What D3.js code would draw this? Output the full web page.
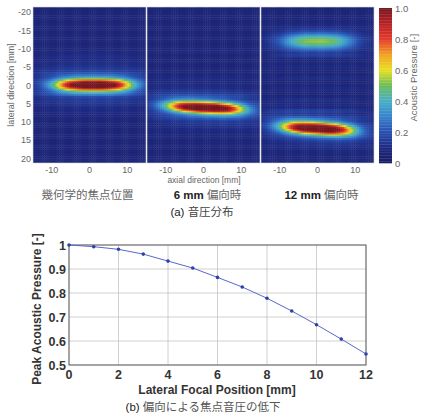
<!DOCTYPE html>
<html>
<head>
<meta charset="utf-8">
<script src="https://cdn.jsdelivr.net/npm/d3@7"></script>
<style>
  body { margin: 0; background: #fff; }
  svg { font-family: "Liberation Sans", Arial, sans-serif; }
  .jp { font-family: "Noto Sans CJK JP", sans-serif; }
</style>
</head>
<body>
<div id="chart"></div>
<script>
// ---- data ----
var panelCaptions = [["", "幾何学的焦点位置"], ["6 mm ", "偏向時"], ["12 mm ", "偏向時"]];
var axialTicks = [-10, 0, 10];
var lateralTicks = [-20, -15, -10, -5, 0, 5, 10, 15, 20];
var colorTicks = [0, 0.2, 0.4, 0.6, 0.8, 1.0];

// focal lobes: lateral pos, axial centre, peak, axial half size, lateral size, tilt
var lobes1 = [
  {lat: 0, ax: 1, peak: 0.98, a: 10, b: 1.7, tilt: 0},
  {lat: 0, ax: 1, peak: 0.13, a: 17, b: 5.5, tilt: 0}
];
var lobes2 = [
  {lat: 6.2, ax: 0.5, peak: 0.98, a: 10, b: 1.6, tilt: 0.05},
  {lat: 6.2, ax: 0.5, peak: 0.13, a: 17, b: 5, tilt: 0.05}
];
var lobes3 = [
  {lat: 11.9, ax: 0, peak: 0.98, a: 9.5, b: 1.7, tilt: 0.06},
  {lat: 11.9, ax: 0, peak: 0.13, a: 16, b: 4.5, tilt: 0.06},
  {lat: -11.9, ax: 0, peak: 0.36, a: 9, b: 2.1, tilt: 0},
  {lat: -11.9, ax: 0, peak: 0.1, a: 14, b: 3.5, tilt: 0}
];
// faint horizontal striations (lateral pos, amplitude)
var streaks1 = [[-3, 0.04], [2.5, 0.05], [-8, 0.03]];
var streaks2 = [[3, 0.05], [9, 0.04], [-2, 0.03], [-9, 0.03]];
var streaks3 = [[-8, 0.06], [-5, 0.04], [-2, 0.05], [1, 0.04], [4, 0.05], [7, 0.06], [9, 0.05]];
var panels = [
  {lobes: lobes1, streaks: streaks1},
  {lobes: lobes2, streaks: streaks2},
  {lobes: lobes3, streaks: streaks3}
];

var deflection = [0, 1, 2, 3, 4, 5, 6, 7, 8, 9, 10, 11, 12];
var peakPressure = [1.0, 0.993, 0.982, 0.962, 0.933, 0.904, 0.865, 0.825, 0.778, 0.725, 0.668, 0.608, 0.546];
var xTicks = [0, 2, 4, 6, 8, 10, 12];
var yTicks = [0.5, 0.6, 0.7, 0.8, 0.9, 1];

// washed-out jet, as in the scan
var colorStops = [
  [0.0, "#1a1c62"], [0.1, "#1e2a82"], [0.2, "#2850b0"], [0.3, "#3583cc"],
  [0.4, "#47aec8"], [0.5, "#6cbc5a"], [0.6, "#e6e022"], [0.7, "#f2a224"],
  [0.8, "#e43a2c"], [0.9, "#b82226"], [1.0, "#761820"]
];

var svg = d3.select("#chart").append("svg")
  .attr("width", 424).attr("height", 414);

var color = d3.scaleLinear()
  .domain(colorStops.map(function(d) { return d[0]; }))
  .range(colorStops.map(function(d) { return d[1]; }))
  .clamp(true);

// ---- (a) pressure maps ----
var pw = 113, ph = 156, mapTop = 7;
var x = d3.scaleLinear().domain([-15, 15]).range([0, pw]);
var y = d3.scaleLinear().domain([-21.3, 21.3]).range([0, ph]);
var step = 0.5;
var axGrid = d3.range(-15, 15, step);
var latGrid = d3.range(-21.5, 21.5, step);

function field(p, ax, lat) {
  var v = 0.07;
  p.lobes.forEach(function(l) {
    var dx = ax - l.ax, dy = lat - l.lat - l.tilt * dx;
    v += l.peak * Math.exp(-Math.pow(Math.abs(dx) / l.a, 3) - (dy / l.b) * (dy / l.b));
  });
  p.streaks.forEach(function(s) {
    var dy = (lat - s[0]) / 0.45;
    v += s[1] * Math.exp(-dy * dy) * Math.exp(-Math.pow(ax / 14, 4));
  });
  return v;
}

panels.forEach(function(p, i) {
  var g = svg.append("g").attr("transform", "translate(" + (33 + i * 114) + "," + mapTop + ")");
  var cells = [];
  latGrid.forEach(function(lat) {
    axGrid.forEach(function(ax) {
      cells.push({ax: ax, lat: lat, v: field(p, ax + step / 2, lat + step / 2)});
    });
  });
  g.selectAll("rect.cell").data(cells).enter().append("rect")
    .attr("class", "cell")
    .attr("x", function(d) { return x(d.ax); })
    .attr("y", function(d) { return Math.max(0, y(d.lat)); })
    .attr("width", x(step) - x(0) + 0.4)
    .attr("height", y(step) - y(0) + 0.4)
    .attr("fill", function(d) { return color(d.v); });
  // trim overflow of the last cells
  g.append("rect").attr("x", pw).attr("y", -1).attr("width", 1).attr("height", ph + 3).attr("fill", "#fff");
  g.append("rect").attr("x", -1).attr("y", ph).attr("width", pw + 2).attr("height", 3).attr("fill", "#fff");
  g.append("rect").attr("width", pw).attr("height", ph).attr("fill", "none")
    .attr("stroke", "#d8d8d8").attr("stroke-width", 0.6);

  g.selectAll("text.xt").data(axialTicks).enter().append("text")
    .attr("class", "xt")
    .attr("x", function(d) { return x(d); })
    .attr("y", ph + 10)
    .attr("text-anchor", "middle")
    .style("font-size", "9px").style("fill", "#666")
    .text(function(d) { return d; });

  var cap = g.append("text").attr("x", pw / 2 + (i == 0 ? -2 : 4)).attr("y", ph + 36)
    .attr("text-anchor", "middle").style("font-size", "11.5px");
  cap.append("tspan").style("font-weight", "bold").style("fill", "#222").text(panelCaptions[i][0]);
  cap.append("tspan").attr("class", "jp").style("fill", "#666").text(panelCaptions[i][1]);
});

var left = svg.append("g").attr("transform", "translate(33," + mapTop + ")");
left.selectAll("text.yt").data(lateralTicks).enter().append("text")
  .attr("class", "yt")
  .attr("x", -2)
  .attr("y", function(d) { return y(d) + 3.5; })
  .attr("text-anchor", "end")
  .style("font-size", "9px").style("fill", "#666")
  .text(function(d) { return d; });
left.append("text")
  .attr("transform", "translate(-19," + (ph / 2) + ")rotate(-90)")
  .attr("text-anchor", "middle")
  .style("font-size", "9px").style("fill", "#666")
  .text("lateral direction [mm]");

svg.append("text")
  .attr("x", 204).attr("y", 183)
  .attr("text-anchor", "middle")
  .style("font-size", "8.5px").style("fill", "#666")
  .text("axial direction [mm]");

var capA = svg.append("text").attr("x", 202).attr("y", 216)
  .attr("text-anchor", "middle").style("font-size", "11.5px");
capA.append("tspan").style("fill", "#222").text("(a) ");
capA.append("tspan").attr("class", "jp").style("fill", "#444").text("音圧分布");

// colour bar
var cb = svg.append("g").attr("transform", "translate(379,8)");
var cbY = d3.scaleLinear().domain([0, 1]).range([155, 0]);
var cbSteps = d3.range(0, 1, 0.01);
cb.selectAll("rect").data(cbSteps).enter().append("rect")
  .attr("x", 0).attr("width", 13)
  .attr("y", function(d) { return cbY(d + 0.01); })
  .attr("height", cbY(0) - cbY(0.01) + 0.3)
  .attr("fill", function(d) { return color(d + 0.005); });
cb.selectAll("text").data(colorTicks).enter().append("text")
  .attr("x", 16)
  .attr("y", function(d) { return cbY(d) + 3.5; })
  .style("font-size", "9.5px").style("fill", "#666")
  .text(function(d) { return d == 0 ? "0" : d.toFixed(1); });
cb.append("text")
  .attr("transform", "translate(38," + cbY(0.55) + ")rotate(-90)")
  .attr("text-anchor", "middle")
  .style("font-size", "9.5px").style("fill", "#666")
  .text("Acoustic Pressure [-]");

// ---- (b) peak pressure vs deflection ----
var bx = d3.scaleLinear().domain([0, 12]).range([69, 366]);
var by = d3.scaleLinear().domain([0.5, 1]).range([365, 245]);

svg.append("g").selectAll("line").data(xTicks).enter().append("line")
  .attr("x1", function(d) { return bx(d); }).attr("x2", function(d) { return bx(d); })
  .attr("y1", by(0.5)).attr("y2", by(1))
  .attr("stroke", "#c4c4c4").attr("stroke-width", 0.8);
svg.append("g").selectAll("line").data(yTicks).enter().append("line")
  .attr("x1", bx(0)).attr("x2", bx(12))
  .attr("y1", function(d) { return by(d); }).attr("y2", function(d) { return by(d); })
  .attr("stroke", "#c4c4c4").attr("stroke-width", 0.8);
svg.append("rect")
  .attr("x", bx(0)).attr("y", by(1))
  .attr("width", bx(12) - bx(0)).attr("height", by(0.5) - by(1))
  .attr("fill", "none").attr("stroke", "#555").attr("stroke-width", 0.9);

svg.append("g").selectAll("text").data(yTicks).enter().append("text")
  .attr("x", bx(0) - 3)
  .attr("y", function(d) { return by(d) + 4.5; })
  .attr("text-anchor", "end")
  .style("font-size", "12.5px").style("font-weight", "bold").style("fill", "#333")
  .text(function(d) { return d == 1 ? "1" : d.toFixed(1); });
svg.append("g").selectAll("text").data(xTicks).enter().append("text")
  .attr("x", function(d) { return bx(d); })
  .attr("y", by(0.5) + 14)
  .attr("text-anchor", "middle")
  .style("font-size", "12.5px").style("font-weight", "bold").style("fill", "#333")
  .text(function(d) { return d; });

svg.append("text")
  .attr("x", 217).attr("y", 394)
  .attr("text-anchor", "middle")
  .style("font-size", "12px").style("font-weight", "bold").style("fill", "#333")
  .text("Lateral Focal Position [mm]");
svg.append("text")
  .attr("transform", "translate(41," + ((by(0.5) + by(1)) / 2 + 4) + ")rotate(-90)")
  .attr("text-anchor", "middle")
  .style("font-size", "12px").style("font-weight", "bold").style("fill", "#333")
  .text("Peak Acoustic Pressure [-]");

var pts = deflection.map(function(d, i) { return [d, peakPressure[i]]; });
svg.append("path")
  .datum(pts)
  .attr("fill", "none").attr("stroke", "#5a68c8").attr("stroke-width", 1)
  .attr("d", d3.line().x(function(d) { return bx(d[0]); }).y(function(d) { return by(d[1]); }));
svg.append("g").selectAll("circle").data(pts).enter().append("circle")
  .attr("cx", function(d) { return bx(d[0]); })
  .attr("cy", function(d) { return by(d[1]); })
  .attr("r", 1.8).attr("fill", "#3040a8");

var capB = svg.append("text").attr("x", 203).attr("y", 411)
  .attr("text-anchor", "middle").style("font-size", "11.5px");
capB.append("tspan").style("fill", "#222").text("(b) ");
capB.append("tspan").attr("class", "jp").style("fill", "#555").text("偏向による焦点音圧の低下");
</script>
</body>
</html>
